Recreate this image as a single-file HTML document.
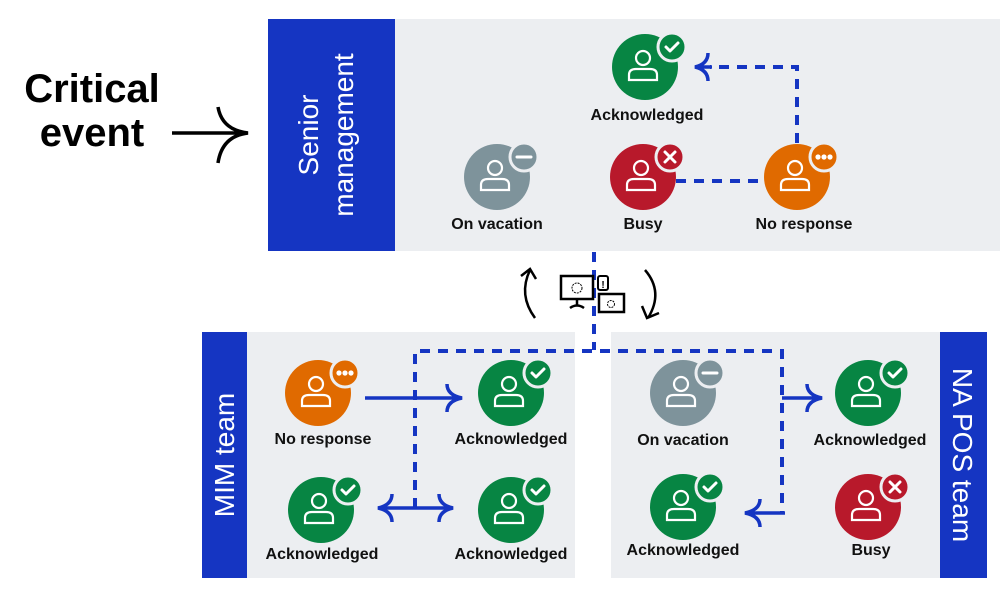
<!DOCTYPE html>
<html><head><style>
body{margin:0;background:#fff;width:1000px;height:600px;overflow:hidden}
svg{display:block}
text{font-family:"Liberation Sans",sans-serif}
.l{font-size:16px;font-weight:bold;fill:#111;text-anchor:middle}
</style></head><body>
<svg width="1000" height="600" viewBox="0 0 1000 600" xmlns="http://www.w3.org/2000/svg">
<defs>
<g id="p">
  <circle cx="-2" cy="-9" r="7" fill="none" stroke="#fff" stroke-width="2.2"/>
  <path d="M-16 13 V8 Q-16 2 -9 2 H5 Q12 2 12 8 V13 Z" fill="none" stroke="#fff" stroke-width="2.2"/>
</g>
<g id="ok"><circle cx="27" cy="-20" r="14" fill="#078543" stroke="#eceef1" stroke-width="3"/><path d="M21 -20 l4 4 l8 -8" fill="none" stroke="#fff" stroke-width="3" stroke-linecap="round" stroke-linejoin="round"/></g>
<g id="x"><circle cx="27" cy="-20" r="14" fill="#b8192b" stroke="#eceef1" stroke-width="3"/><path d="M22 -25 l10 10 M32 -25 l-10 10" stroke="#fff" stroke-width="3" stroke-linecap="round"/></g>
<g id="dots"><circle cx="27" cy="-20" r="14" fill="#e06a00" stroke="#eceef1" stroke-width="3"/><circle cx="21" cy="-20" r="2.6" fill="#fff"/><circle cx="27" cy="-20" r="2.6" fill="#fff"/><circle cx="33" cy="-20" r="2.6" fill="#fff"/></g>
<g id="min"><circle cx="27" cy="-20" r="14" fill="#7e939b" stroke="#eceef1" stroke-width="3"/><path d="M20 -20 h14" stroke="#fff" stroke-width="3" stroke-linecap="round"/></g>
<g id="G"><circle r="33" fill="#078543"/><use href="#p"/><use href="#ok"/></g>
<g id="R"><circle r="33" fill="#b8192b"/><use href="#p"/><use href="#x"/></g>
<g id="O"><circle r="33" fill="#e06a00"/><use href="#p"/><use href="#dots"/></g>
<g id="V"><circle r="33" fill="#7e939b"/><use href="#p"/><use href="#min"/></g>
</defs>

<rect x="268" y="19" width="732" height="232" fill="#eceef1"/>
<rect x="268" y="19" width="127" height="232" fill="#1535c2"/>
<text transform="translate(318,135) rotate(-90)" fill="#fff" font-size="28" text-anchor="middle">Senior</text>
<text transform="translate(353,135) rotate(-90)" fill="#fff" font-size="28" text-anchor="middle">management</text>

<rect x="202" y="332" width="373" height="246" fill="#eceef1"/>
<rect x="202" y="332" width="45" height="246" fill="#1535c2"/>
<text transform="translate(234,455) rotate(-90)" fill="#fff" font-size="28" text-anchor="middle">MIM team</text>

<rect x="611" y="332" width="376" height="246" fill="#eceef1"/>
<rect x="940" y="332" width="47" height="246" fill="#1535c2"/>
<text transform="translate(953,455) rotate(90)" fill="#fff" font-size="28" text-anchor="middle">NA POS team</text>

<text x="92" y="102" font-size="40" font-weight="bold" text-anchor="middle" fill="#000">Critical</text>
<text x="92" y="146" font-size="40" font-weight="bold" text-anchor="middle" fill="#000">event</text>
<path d="M172 133 H248 M218 107 Q222 130 248 133 Q222 136 218 163" fill="none" stroke="#000" stroke-width="3.5"/>

<g fill="none" stroke="#1535c2" stroke-width="4" stroke-dasharray="10 8">
<path d="M797 143 V67 H710"/>
<path d="M676 181 H765"/>
<path d="M594 252 V350"/>
<path d="M415 508 V351 H782 V513"/>
</g>
<g fill="none" stroke="#1535c2" stroke-width="3.5">
<path d="M695 67 H712 M708 53 Q708 64 695 67 Q708 70 708 81"/>
<path d="M365 398 H462 M447 384 Q447 395 462 398 Q447 401 447 412"/>
<path d="M378 508 H453 M392 494 Q392 505 378 508 Q392 511 392 522 M439 494 Q439 505 453 508 Q439 511 439 522"/>
<path d="M782 398 H822 M807 384 Q807 395 822 398 Q807 401 807 412"/>
<path d="M785 513 H745 M760 499 Q760 510 745 513 Q760 516 760 527"/>
</g>

<g fill="none" stroke="#000" stroke-width="2.5">
<path d="M535 318 Q518 295 530 270 M521 276 L530 269 L536 279"/>
<path d="M645 270 Q664 292 648 318 M642 306 L647 318 L659 313"/>
</g>
<rect x="561" y="276" width="32" height="23" fill="#fff" stroke="#000" stroke-width="2.5"/>
<path d="M577 299 V305 M570 308 Q577 303 584 308" fill="none" stroke="#000" stroke-width="2.5"/>
<rect x="598" y="276" width="10" height="14" rx="2" fill="#fff" stroke="#000" stroke-width="2"/>
<text x="603" y="288" font-size="10" font-weight="bold" text-anchor="middle">!</text>
<rect x="599" y="294" width="25" height="18" fill="#fff" stroke="#000" stroke-width="2.5"/>
<circle cx="577" cy="288" r="5" fill="none" stroke="#000" stroke-width="1" stroke-dasharray="2 1"/>
<circle cx="611" cy="304" r="3.5" fill="none" stroke="#000" stroke-width="1" stroke-dasharray="2 1"/>

<use href="#G" x="645" y="67"/><text class="l" x="647" y="120">Acknowledged</text>
<use href="#V" x="497" y="177"/><text class="l" x="497" y="229">On vacation</text>
<use href="#R" x="643" y="177"/><text class="l" x="643" y="229">Busy</text>
<use href="#O" x="797" y="177"/><text class="l" x="804" y="229">No response</text>

<use href="#O" x="318" y="393"/><text class="l" x="323" y="444">No response</text>
<use href="#G" x="511" y="393"/><text class="l" x="511" y="444">Acknowledged</text>
<use href="#G" x="321" y="510"/><text class="l" x="322" y="559">Acknowledged</text>
<use href="#G" x="511" y="510"/><text class="l" x="511" y="559">Acknowledged</text>

<use href="#V" x="683" y="393"/><text class="l" x="683" y="445">On vacation</text>
<use href="#G" x="868" y="393"/><text class="l" x="870" y="445">Acknowledged</text>
<use href="#G" x="683" y="507"/><text class="l" x="683" y="555">Acknowledged</text>
<use href="#R" x="868" y="507"/><text class="l" x="871" y="555">Busy</text>
</svg>
</body></html>
